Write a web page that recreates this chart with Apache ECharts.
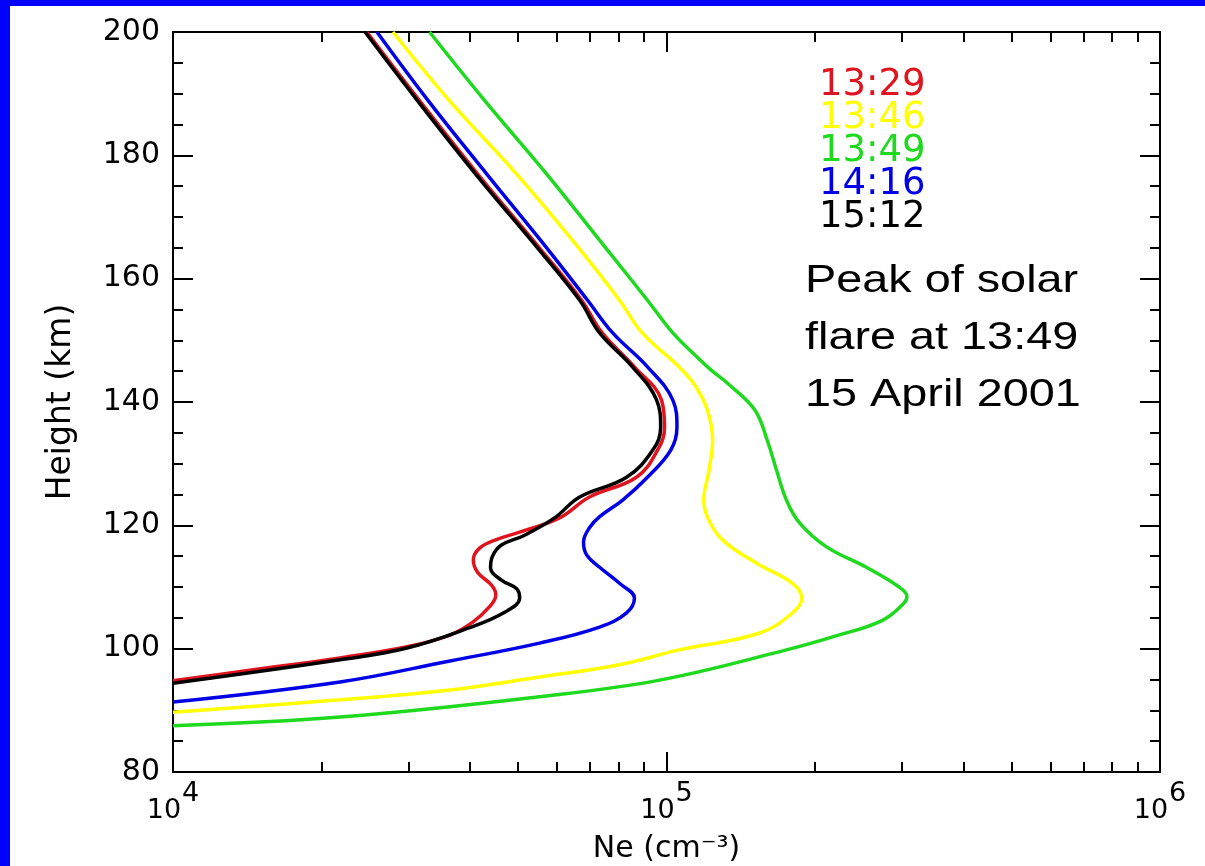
<!DOCTYPE html>
<html>
<head>
<meta charset="utf-8">
<script src="https://cdn.jsdelivr.net/npm/echarts@6/dist/echarts.min.js"></script>
<style>
  html, body { margin: 0; padding: 0; background: #ffffff; }
  #chart { width: 1205px; height: 866px; }
</style>
</head>
<body>
<div id="chart"></div>
<script>
// Electron density profiles, 15 April 2001 solar flare
const seriesNames = ['13:29', '13:46', '13:49', '14:16', '15:12'];
const seriesColors = ['#e0141e', '#ffff00', '#1ed91e', '#0000e6', '#000000'];

// Height (km) and Ne (cm^-3) for each profile time
const height_1329 = [94.8, 96.5, 98.5, 100.3, 102.2, 104.3, 106.8, 108.7, 110.3, 112.4, 114.4, 116.3, 117.6, 118.9, 121.2, 124.6, 127.8, 132.2, 135.9, 140.3, 145.7, 151.2, 156.5, 164.6, 176.8, 189.0, 200];
const ne_1329 = [1.00e4, 1.43e4, 2.18e4, 2.98e4, 3.64e4, 4.05e4, 4.38e4, 4.51e4, 4.42e4, 4.14e4, 4.06e4, 4.18e4, 4.49e4, 5.04e4, 6.07e4, 6.98e4, 8.69e4, 9.59e4, 9.91e4, 9.77e4, 8.61e4, 7.41e4, 6.73e4, 5.58e4, 4.16e4, 3.15e4, 2.47e4];

const height_1346 = [89.7, 91.7, 93.3, 95.4, 97.4, 99.8, 102.5, 105.8, 108.2, 110.6, 113.9, 117.6, 121.4, 124.1, 129.0, 133.8, 138.7, 142.8, 145.7, 151.2, 156.5, 164.6, 176.8, 189.0, 200];
const ne_1346 = [1.00e4, 2.18e4, 3.64e4, 5.53e4, 8.03e4, 1.06e5, 1.54e5, 1.80e5, 1.88e5, 1.80e5, 1.52e5, 1.30e5, 1.21e5, 1.19e5, 1.22e5, 1.24e5, 1.21e5, 1.14e5, 1.06e5, 8.93e4, 8.03e4, 6.70e4, 4.99e4, 3.62e4, 2.79e4];

const height_1349 = [87.5, 88.9, 92.2, 94.9, 99.8, 101.9, 104.6, 107.4, 108.5, 110.0, 113.2, 116.5, 120.4, 124.1, 129.0, 133.8, 138.7, 142.8, 145.2, 146.8, 151.2, 156.5, 164.6, 176.8, 189.0, 200];
const ne_1349 = [1.00e4, 2.18e4, 5.53e4, 9.68e4, 1.75e5, 2.17e5, 2.74e5, 3.03e5, 3.07e5, 2.96e5, 2.54e5, 2.11e5, 1.86e5, 1.75e5, 1.67e5, 1.60e5, 1.51e5, 1.34e5, 1.23e5, 1.17e5, 1.03e5, 9.15e4, 7.60e4, 5.74e4, 4.27e4, 3.31e4];

const height_1416 = [91.35, 94.6, 98.0, 100.9, 103.5, 105.8, 108.2, 110.6, 113.2, 115.2, 117.3, 119.6, 121.4, 124.1, 127.8, 132.2, 135.9, 140.3, 145.7, 151.2, 156.5, 164.6, 176.8, 189.0, 200];
const ne_1416 = [1.00e4, 2.18e4, 3.64e4, 5.53e4, 7.32e4, 8.30e4, 8.61e4, 8.03e4, 7.32e4, 6.89e4, 6.79e4, 6.98e4, 7.32e4, 8.15e4, 9.15e4, 1.02e5, 1.05e5, 1.03e5, 9.15e4, 7.78e4, 6.92e4, 5.77e4, 4.34e4, 3.28e4, 2.59e4];

const height_1512 = [94.4, 98.2, 100.1, 103.4, 105.9, 108.2, 109.7, 111.1, 113.1, 115.0, 116.8, 118.4, 121.2, 124.6, 127.8, 132.2, 135.9, 140.3, 145.7, 151.2, 156.5, 164.6, 176.8, 189.0, 200];
const ne_1512 = [1.00e4, 2.18e4, 2.98e4, 3.99e4, 4.70e4, 5.04e4, 4.97e4, 4.63e4, 4.40e4, 4.44e4, 4.63e4, 5.16e4, 5.93e4, 6.67e4, 8.30e4, 9.38e4, 9.73e4, 9.55e4, 8.53e4, 7.32e4, 6.67e4, 5.53e4, 4.12e4, 3.12e4, 2.45e4];

// Axis ranges and tick positions
const neMin = 1e4, neMax = 1e6;
const heightMin = 80, heightMax = 200, heightStep = 20;
const neMinorTicks = [2e4, 3e4, 4e4, 5e4, 6e4, 7e4, 8e4, 9e4, 2e5, 3e5, 4e5, 5e5, 6e5, 7e5, 8e5, 9e5];

const noteLines = ['Peak of solar', 'flare at 13:49', '15 April 2001'];

const profiles = [
  [height_1329, ne_1329],
  [height_1346, ne_1346],
  [height_1349, ne_1349],
  [height_1416, ne_1416],
  [height_1512, ne_1512]
];

const axisFont = 'DejaVu Sans';
const lineStyleAxis = { color: '#000', width: 2 };

function xAxisDef(position, ticks, len, showLine, showLabel) {
  const ax = {
    type: 'log', logBase: 10, min: neMin, max: neMax, position: position,
    axisLine: { show: showLine, lineStyle: lineStyleAxis },
    axisTick: { show: true, inside: true, length: len, lineStyle: lineStyleAxis },
    axisLabel: { show: false },
    splitLine: { show: false }
  };
  if (ticks) ax.axisTick.customValues = ticks;
  if (showLabel) {
    ax.axisLabel = {
      show: true, margin: 8, showMinLabel: true, showMaxLabel: true,
      formatter: function (v) { return '{b|10}{s|' + Math.round(Math.log10(v)) + '}'; },
      rich: {
        b: { fontFamily: axisFont, fontSize: 27, color: '#000', padding: [17, 0, 0, 0] },
        s: { fontFamily: axisFont, fontSize: 27, color: '#000', padding: [0, 0, 17, 1] }
      }
    };
    ax.name = 'Ne (cm\u207B\u00B3)';
    ax.nameLocation = 'middle';
    ax.nameGap = 62;
    ax.nameTextStyle = { fontFamily: axisFont, fontSize: 30, color: '#000' };
  }
  return ax;
}

function yAxisDef(position, showLabel) {
  const ax = {
    type: 'value', min: heightMin, max: heightMax, interval: heightStep, position: position,
    axisLine: { show: true, lineStyle: lineStyleAxis },
    axisTick: { show: true, inside: true, length: 20, lineStyle: lineStyleAxis },
    minorTick: { show: true, splitNumber: 4, length: 10, lineStyle: lineStyleAxis },
    axisLabel: { show: false },
    splitLine: { show: false },
    minorSplitLine: { show: false }
  };
  if (showLabel) {
    ax.axisLabel = { show: true, margin: 13, fontFamily: axisFont, fontSize: 30, color: '#000' };
    ax.name = 'Height (km)';
    ax.nameLocation = 'middle';
    ax.nameGap = 95;
    ax.nameTextStyle = { fontFamily: axisFont, fontSize: 33, color: '#000' };
  }
  return ax;
}

const chart = echarts.init(document.getElementById('chart'), null, { renderer: 'canvas' });

chart.setOption({
  animation: false,
  backgroundColor: '#ffffff',
  grid: { left: 173, right: 45, top: 32, bottom: 94, containLabel: false, outerBoundsMode: 'none' },
  xAxis: [
    xAxisDef('bottom', null, 20, true, true),
    xAxisDef('bottom', neMinorTicks, 10, false, false),
    xAxisDef('top', null, 20, true, false),
    xAxisDef('top', neMinorTicks, 10, false, false)
  ],
  yAxis: [
    yAxisDef('left', true),
    yAxisDef('right', false)
  ],
  legend: {
    orient: 'vertical', left: 809, top: 62,
    icon: 'none', itemWidth: 0, itemHeight: 0, itemGap: -4,
    selectedMode: false,
    textStyle: { fontFamily: axisFont, fontSize: 37, lineHeight: 34, padding: 0 },
    data: seriesNames.map(function (n, i) { return { name: n, textStyle: { color: seriesColors[i] } }; })
  },
  graphic: [
    { type: 'rect', left: 0, top: 0, shape: { width: 10, height: 866 }, style: { fill: '#0000fe' }, z: 100 },
    { type: 'rect', left: 0, top: 0, shape: { width: 1205, height: 6 }, style: { fill: '#0000fe' }, z: 100 },
    {
      type: 'text', x: 805, y: 253, scaleX: 1.2,
      style: {
        text: noteLines.join('\n'), fontFamily: 'Liberation Sans', fontSize: 39,
        lineHeight: 57, fill: '#000', align: 'left', verticalAlign: 'top'
      }
    }
  ],
  series: profiles.map(function (p, i) {
    return {
      name: seriesNames[i], type: 'line', xAxisIndex: 0, yAxisIndex: 0,
      data: p[0].map(function (h, k) { return [p[1][k], h]; }),
      showSymbol: false, symbol: 'none', clip: true,
      smooth: 0.4,
      color: seriesColors[i],
      lineStyle: { color: seriesColors[i], width: 3.5 }
    };
  })
});
</script>
</body>
</html>
